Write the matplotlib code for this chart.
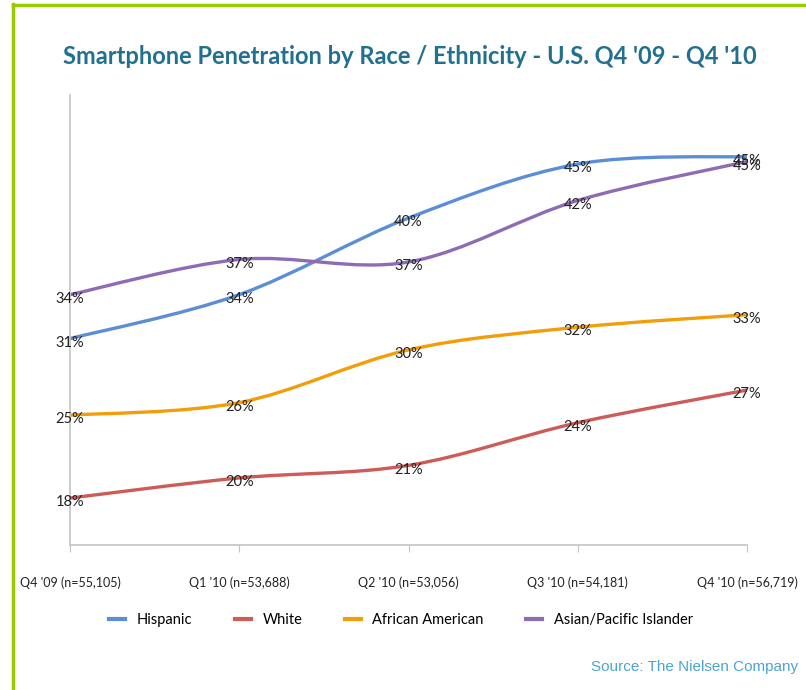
import numpy as np
import matplotlib
matplotlib.use('Agg')
import matplotlib.pyplot as plt
from matplotlib.path import Path
from matplotlib.patches import PathPatch
from matplotlib.lines import Line2D

# data (labels are the rounded values)
quarters = ["Q4 '09 (n=55,105)", "Q1 '10 (n=53,688)", "Q2 '10 (n=53,056)",
            "Q3 '10 (n=54,181)", "Q4 '10 (n=56,719)"]
hispanic = [30.7, 34.2, 40.3, 44.6, 45.2]
white = [18.0, 19.6, 20.6, 24.0, 26.6]
african_american = [24.6, 25.6, 29.8, 31.6, 32.6]
asian_pacific = [34.2, 37.0, 36.8, 41.7, 44.8]

series_names = ['Hispanic', 'White', 'African American', 'Asian/Pacific Islander']
series_colors = ['#5b8ed4', '#cd5c59', '#f29d0a', '#8e6bb5']

plt.rcParams['font.family'] = ['Lato', 'DejaVu Sans']


def smooth_path(xs, ys):
    # excel-like smoothed line: cubic bezier segments through the points
    xs = np.asarray(xs, float)
    ys = np.asarray(ys, float)
    px = np.concatenate([[xs[0]], xs, [xs[-1]]])
    py = np.concatenate([[ys[0]], ys, [ys[-1]]])
    verts = [(xs[0], ys[0])]
    codes = [Path.MOVETO]
    for i in range(1, len(xs)):
        c1 = (px[i] + (px[i + 1] - px[i - 1]) / 6, py[i] + (py[i + 1] - py[i - 1]) / 6)
        c2 = (px[i + 1] - (px[i + 2] - px[i]) / 6, py[i + 1] - (py[i + 2] - py[i]) / 6)
        verts += [c1, c2, (px[i + 1], py[i + 1])]
        codes += [Path.CURVE4] * 3
    return Path(verts, codes)


fig = plt.figure(figsize=(8.06, 6.9), dpi=100)
ax = fig.add_axes([70 / 806, 1 - 545 / 690, 677 / 806, 450 / 690])

x = np.arange(len(quarters))
all_series = [hispanic, white, african_american, asian_pacific]
handles = []
for vals, name, col in zip(all_series, series_names, series_colors):
    patch = PathPatch(smooth_path(x, vals), facecolor='none', edgecolor=col,
                      lw=2.4, capstyle='round', joinstyle='round')
    ax.add_patch(patch)
    for xi, v in zip(x, vals):
        ax.annotate('%d%%' % int(v + 0.5), (xi, v), xytext=(0, -3),
                    textcoords='offset points', ha='center', va='center',
                    fontsize=10.5, color='#222222')
    handles.append(Line2D([], [], color=col, lw=3))

ax.set_xlim(0, 4)
ax.set_ylim(14.26, 50.1)
ax.set_xticks(x)
ax.set_xticklabels(quarters, fontsize=9, color='#222222')
ax.set_yticks([])
for s in ['top', 'right']:
    ax.spines[s].set_visible(False)
for s in ['left', 'bottom']:
    ax.spines[s].set_color('#c4c4c4')
    ax.spines[s].set_linewidth(1.2)
ax.tick_params(axis='x', length=5, color='#c4c4c4', pad=18)

fig.text(410 / 806, 1 - 57 / 690,
         "Smartphone Penetration by Race / Ethnicity - U.S. Q4 '09 - Q4 '10",
         ha='center', va='center', fontsize=17, fontweight='bold', color='#21708f')

fig.legend(handles, series_names, loc='center', ncol=4,
           bbox_to_anchor=(401 / 806, 1 - 620 / 690), frameon=False,
           fontsize=10.5, handlelength=1.1, handletextpad=0.8, columnspacing=2.9)

fig.text(798 / 806, 1 - 667 / 690, 'Source: The Nielsen Company', ha='right',
         va='center', fontsize=11, color='#4aa5cf', family=['Liberation Sans', 'DejaVu Sans'])

# green frame on the left and top edges
fig.add_artist(Line2D([12.5 / 806, 12.5 / 806], [0, 1 - 4 / 690], color='#99cc00', lw=2.5,
                      transform=fig.transFigure))
fig.add_artist(Line2D([12.5 / 806, 1], [1 - 4.5 / 690, 1 - 4.5 / 690], color='#99cc00', lw=2.5,
                      transform=fig.transFigure))

fig.savefig('out.png', dpi=100)
